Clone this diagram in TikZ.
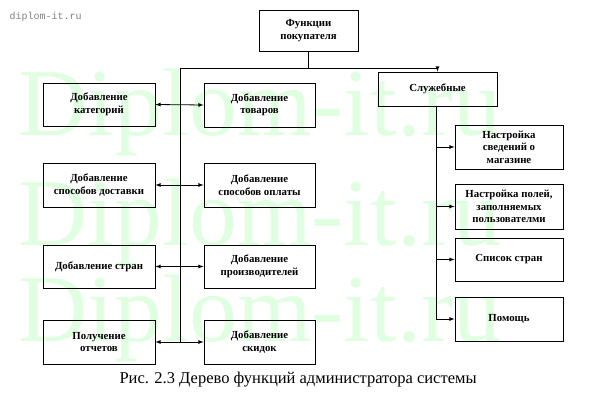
\documentclass[tikz,border=0pt]{standalone}
\usepackage{fontspec}
\setmainfont{Liberation Serif}
\newfontfamily\wmono{Liberation Mono}
\begin{document}
\begin{tikzpicture}[x=1pt,y=-1pt,
  box/.style={draw,thick,fill=none,align=center,font=\bfseries\fontsize{10.8}{12.5}\selectfont,inner sep=0},
  arr/.style={-latex,thick},
  darr/.style={latex-latex,thick},
  wm/.style={text=green!12,font=\fontsize{96}{96}\selectfont,anchor=west}]
\useasboundingbox (0,0) rectangle (603,401);
\node[wm] at (15,112) {Diplom-it.ru};
\node[wm] at (15,222) {Diplom-it.ru};
\node[wm] at (15,318) {Diplom-it.ru};
\node[anchor=west,text=gray,font=\wmono\fontsize{10}{12}\selectfont] (w) at (6,17) {diplom-it.ru};
\newcommand{\bx}[6]{\node[box,minimum width=#4-#2,minimum height=#5-#3] (#1) at ({(#2+#4)/2},{(#3+#5)/2}) {#6};}
\bx{top}{259}{10}{358}{51}{Функции\\покупателя}
\bx{sl}{378}{72}{497}{106}{Служебные}
\bx{l1}{43}{83}{155}{126}{Добавление\\категорий}
\bx{l2}{43}{163}{155}{207}{Добавление\\способов доставки}
\bx{l3}{43}{245}{155}{288}{Добавление стран}
\bx{l4}{43}{320}{155}{364}{Получение\\отчетов}
\bx{m1}{204}{83}{315}{127}{Добавление\\товаров}
\bx{m2}{204}{163}{315}{207}{Добавление\\способов оплаты}
\bx{m3}{204}{245}{315}{288}{Добавление\\производителей}
\bx{m4}{204}{320}{315}{364}{Добавление\\скидок}
\bx{r1}{455}{125}{563}{169}{Настройка\\сведений о\\магазине}
\bx{r2}{455}{184}{563}{229}{Настройка полей,\\заполняемых\\пользователми}
\bx{r3}{455}{238}{563}{281}{Список стран}
\bx{r4}{455}{297}{563}{341}{Помощь}
\coordinate (j) at (180,68);
\coordinate (jb) at (180,342);
\draw[thick] (top.south) -- (top.south |- j) -- (j) -- (jb);
\draw[arr] (top.south |- j) -- (sl.north |- j) -- (sl.north);
\foreach \a/\b in {l1/m1,l2/m2,l3/m3,l4/m4} \draw[darr] (\a.east) -- (\b.west);
\coordinate (k) at (436,320);
\draw[thick] (436,106) -- (k);
\foreach \r in {r1,r2,r3,r4} \draw[arr] (\r.west -| k) -- (\r.west);
\node[anchor=west,font=\fontsize{16.5}{18}\selectfont] (cap) at (116,380) {Рис. 2.3 Дерево функций администратора системы};
\end{tikzpicture}
\end{document}
